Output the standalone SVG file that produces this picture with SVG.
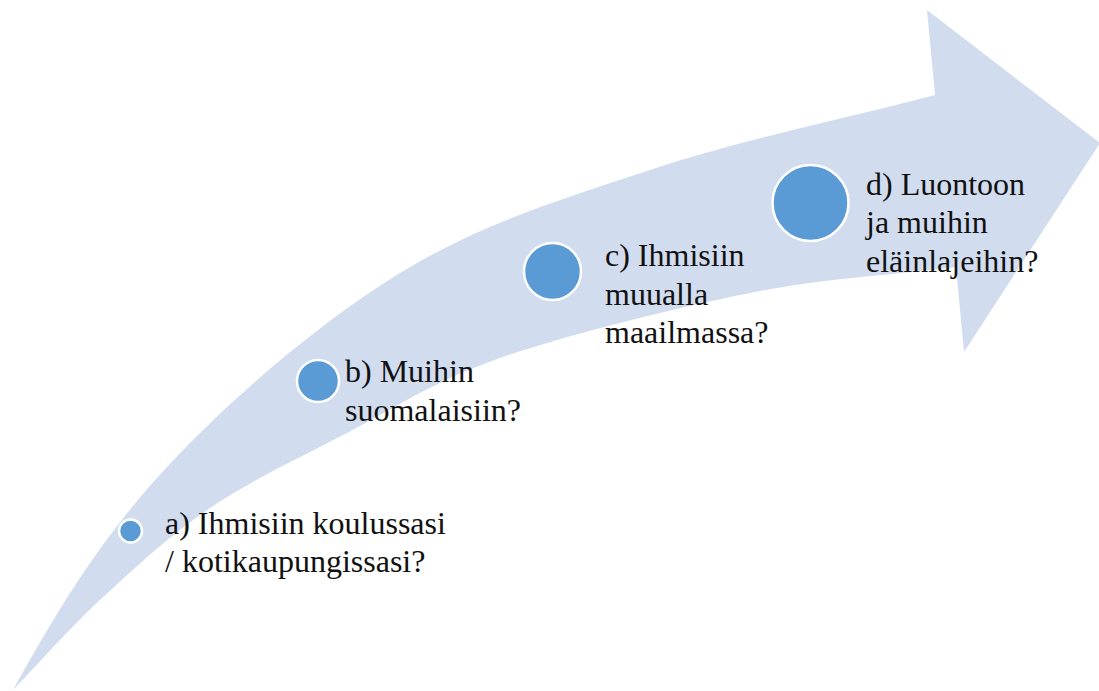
<svg xmlns="http://www.w3.org/2000/svg" width="1099" height="691" viewBox="0 0 1099 691">
  <style>
    .arrow { fill: #D1DDEF; stroke: none; }
    .dot { fill: #5B9BD5; stroke: #FFFFFF; stroke-width: 2.5; }
    .lbl { font-family: 'Liberation Serif', 'Times New Roman', serif; font-size: 32px; fill: #111111; }
  </style>
  <rect width="1099" height="691" fill="#FFFFFF"/>
  <g id="arrow">
    <path class="arrow" d="M13,690
      C61.6,602.7 102.5,536.5 167,467
      C231.5,397.5 319.5,322.5 400,273
      C480.5,223.5 560.8,199.7 650,170
      C739.2,140.3 840,120 935,95
      L927,10 L1100,143 L964,352 L956,267
      C887.3,275.7 826,277.8 750,293
      C674,308.2 567.2,334.7 500,358
      C432.8,381.3 395.3,408 347,433
      C298.7,458 251.2,480.2 210,508
      C168.8,535.8 132.8,569.7 100,600
      C67.2,630.3 42,660 13,690 Z"/>
  </g>
  <g id="connectors"></g>
  <g id="node-a">
    <circle class="dot" cx="130.5" cy="531" r="11.5"/>
    <text class="lbl" x="165" y="534">a) Ihmisiin koulussasi</text>
    <text class="lbl" x="165" y="572">/ kotikaupungissasi?</text>
  </g>
  <g id="node-b">
    <circle class="dot" cx="318" cy="381" r="21"/>
    <text class="lbl" x="345" y="382">b) Muihin</text>
    <text class="lbl" x="345" y="421">suomalaisiin?</text>
  </g>
  <g id="node-c">
    <circle class="dot" cx="552.5" cy="271.5" r="28.5"/>
    <text class="lbl" x="605" y="266">c) Ihmisiin</text>
    <text class="lbl" x="605" y="305">muualla</text>
    <text class="lbl" x="605" y="343">maailmassa?</text>
  </g>
  <g id="node-d">
    <circle class="dot" cx="810.5" cy="203" r="38"/>
    <text class="lbl" x="866" y="195">d) Luontoon</text>
    <text class="lbl" x="866" y="233">ja muihin</text>
    <text class="lbl" x="866" y="272">eläinlajeihin?</text>
  </g>
</svg>
